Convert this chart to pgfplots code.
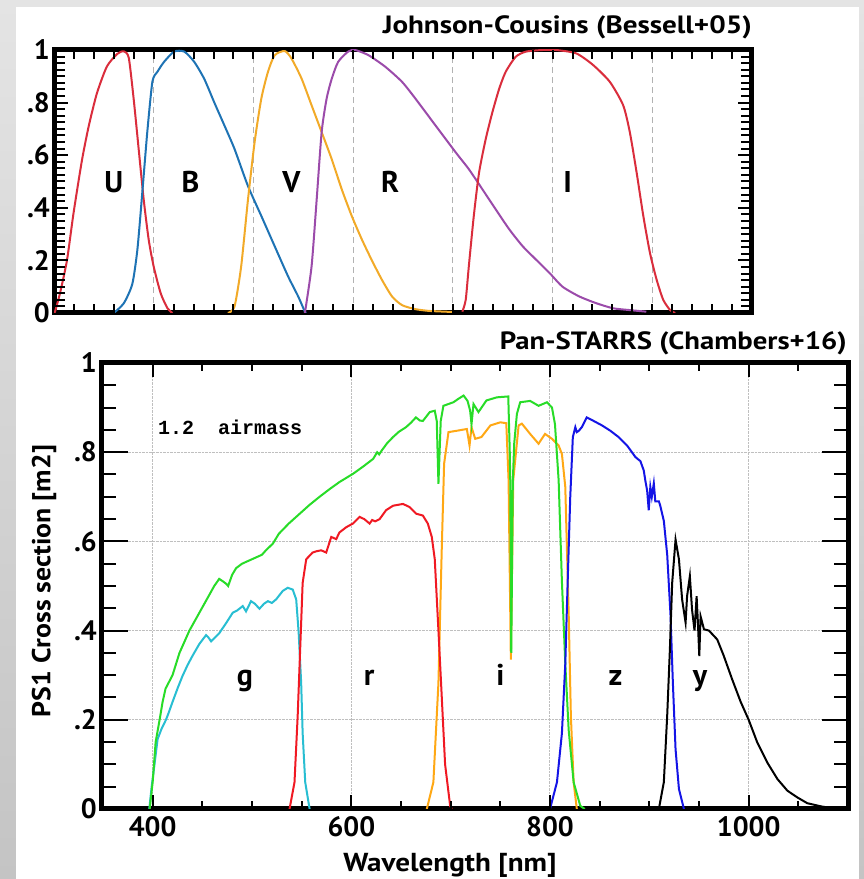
\documentclass[border=0pt]{standalone}
\usepackage{fontspec}
\setmainfont{PT Sans}
\newfontfamily\monob{Liberation Mono}
\usepackage{graphicx}
\usepackage{pgfplots}
\pgfplotsset{compat=1.18}
\definecolor{jred}{RGB}{218,45,60}
\definecolor{jblue}{RGB}{30,115,180}
\definecolor{jorange}{RGB}{242,170,40}
\definecolor{jpurple}{RGB}{155,75,170}
\definecolor{pgreen}{RGB}{40,220,40}
\definecolor{pcyan}{RGB}{40,190,210}
\definecolor{pred}{RGB}{240,25,35}
\definecolor{porange}{RGB}{255,168,20}
\definecolor{pblue}{RGB}{20,20,230}
\pgfplotsset{
  every axis/.append style={
    scale only axis, anchor=south west,
    axis line style={line width=5pt, black},
    major tick length=0pt, minor tick length=0pt,
    tick label style={font=\fontsize{28}{30}\selectfont\bfseries},
    /pgf/number format/assume math mode=true,
    clip=true,
  },
}
\newcommand{\wbox}[2]{\resizebox{#1}{\height}{#2}}
\tikzset{tk/.style={line width=2pt, black}}
\begin{document}
\begin{tikzpicture}
\path[use as bounding box] (0pt,0pt) rectangle (864pt,879pt);
\shade[top color={rgb,255:red,228;green,228;blue,228}, bottom color={rgb,255:red,196;green,196;blue,196}] (0pt,0pt) rectangle (864pt,879pt);
\fill[white] (16pt,0pt) rectangle (859pt,872pt);

% ---------------- Johnson-Cousins ----------------
\begin{axis}[
  at={(54pt,566pt)}, width=698pt, height=263pt,
  xmin=300, xmax=1000, ymin=0, ymax=1,
  xtick={300,400,500,600,700,800,900,1000}, xticklabels={},
  ytick={0,0.2,0.4,0.6,0.8,1}, yticklabels={0,.2,.4,.6,.8,1},
  yticklabel style={inner sep=2pt, xshift=-2pt},
  xmajorgrids, major grid style={gray!60, dash pattern=on 6pt off 4pt, line width=1pt},
]
\addplot[jred, line width=2pt, smooth, tension=0.4] coordinates {(300,0)(301,0.005)(306,0.075)(313,0.2)(319.6,0.38)(328,0.58)(334.8,0.71)(343,0.835)(353,0.937)(363.4,0.985)(370,0.995)(375,0.97)(380,0.81)(385,0.62)(390,0.43)(395,0.278)(400,0.176)(407,0.075)(413.8,0.018)(418.8,0)};
\addplot[jblue, line width=2pt, smooth, tension=0.4] coordinates {(360,0)(370,0.037)(378.5,0.11)(383.6,0.24)(388.6,0.46)(393.6,0.69)(398.7,0.88)(403.7,0.917)(410.4,0.955)(420.5,0.994)(430.6,0.994)(440.6,0.955)(450.7,0.89)(460.8,0.80)(470.9,0.713)(481,0.624)(494.5,0.483)(507.9,0.369)(521.3,0.254)(534.8,0.139)(544.9,0.063)(551.6,0.005)(553,0)};
\addplot[jorange, line width=2pt, smooth, tension=0.4] coordinates {(474.3,0)(481,0.024)(487.7,0.177)(494.5,0.43)(501.2,0.65)(507.9,0.815)(514.6,0.917)(521.3,0.98)(531.4,0.996)(538.1,0.968)(548.2,0.892)(558.3,0.79)(568.4,0.688)(578.5,0.585)(588.6,0.47)(598.6,0.369)(608.7,0.28)(618.8,0.2)(628.9,0.126)(639,0.063)(649,0.03)(662,0.015)(676,0.008)(699,0.004)};
\addplot[jpurple, line width=2pt, smooth, tension=0.4] coordinates {(551.6,0)(558.3,0.177)(563.4,0.43)(568.4,0.687)(573.4,0.815)(578.5,0.89)(585,0.955)(595,0.994)(602,1.0)(615.5,0.98)(632.3,0.936)(649,0.879)(662.5,0.815)(682.6,0.713)(702.8,0.611)(716,0.547)(729.7,0.47)(743,0.394)(756.6,0.318)(770,0.254)(783.4,0.203)(797,0.152)(810,0.1)(827,0.0625)(844,0.037)(860.7,0.018)(877.5,0.011)(894,0.005)};
\addplot[jred, line width=2pt, smooth, tension=0.4] coordinates {(709.5,0.005)(712.9,0.05)(716,0.177)(721,0.369)(726.3,0.534)(733,0.662)(739.7,0.764)(746.5,0.853)(753,0.917)(763,0.974)(773.4,0.994)(790,1.0)(803.6,1.0)(823.8,0.987)(840.6,0.943)(857.4,0.879)(870.8,0.79)(877.5,0.687)(884.3,0.534)(891,0.369)(897.7,0.228)(904.4,0.126)(911,0.05)(917.9,0.011)(923,0)};
\node[anchor=base, font=\fontsize{30}{32}\selectfont\bfseries] at (axis cs:360,0.46) {U};
\node[anchor=base, font=\fontsize{30}{32}\selectfont\bfseries] at (axis cs:437,0.46) {B};
\node[anchor=base, font=\fontsize{30}{32}\selectfont\bfseries] at (axis cs:538,0.46) {V};
\node[anchor=base, font=\fontsize{30}{32}\selectfont\bfseries] at (axis cs:637,0.46) {R};
\node[anchor=base, font=\fontsize{30}{32}\selectfont\bfseries] at (axis cs:815,0.46) {I};
\end{axis}

% ---------------- Pan-STARRS ----------------
\begin{axis}[
  at={(101pt,70pt)}, width=747pt, height=446pt,
  xmin=348, xmax=1100, ymin=0, ymax=1,
  xtick={400,600,800,1000}, xticklabels={400,600,800,1000},
  ytick={0,0.2,0.4,0.6,0.8,1}, yticklabels={0,.2,.4,.6,.8,1},
  yticklabel style={inner sep=2pt, xshift=-2pt},
  xticklabel style={yshift=-4pt},
  grid=major, major grid style={gray!50, densely dotted, line width=1pt},
]
\addplot[porange, line width=2pt] coordinates {(676,0)(682.6,0.06)(687.7,0.283)(691,0.58)(693.4,0.774)(697.8,0.845)(706,0.848)(716.3,0.852)(719,0.815)(721,0.856)(724.7,0.83)(731,0.834)(740,0.86)(750,0.867)(756,0.865)(758.3,0.737)(760.6,0.335)(763,0.737)(768.4,0.86)(771.7,0.864)(780,0.841)(788.5,0.819)(795,0.841)(802,0.83)(808.7,0.815)(812,0.796)(815.4,0.722)(817,0.587)(818.8,0.44)(821,0.21)(823.8,0.06)(827,0)};
\addplot[pcyan, line width=2pt] coordinates {(396.6,0)(399,0.05)(401.7,0.097)(405,0.157)(409,0.18)(413.4,0.2)(416,0.215)(420,0.24)(425,0.27)(430,0.298)(435,0.322)(440,0.343)(447,0.37)(453.8,0.39)(456,0.385)(458.8,0.376)(463,0.385)(467,0.394)(474,0.417)(480.6,0.44)(485,0.445)(490.7,0.455)(494,0.443)(499,0.466)(503,0.46)(507.5,0.449)(512,0.46)(516,0.466)(520,0.462)(524.3,0.47)(531,0.489)(536,0.496)(541,0.492)(544.5,0.47)(547,0.395)(549.5,0.283)(551,0.17)(553.6,0.06)(558,0)};
\addplot[pred, line width=2pt] coordinates {(537.8,0)(542.8,0.06)(546,0.209)(548.5,0.358)(551,0.507)(554.6,0.56)(561,0.575)(565,0.578)(569.7,0.58)(574.7,0.575)(579.8,0.61)(584.8,0.605)(588,0.62)(595,0.632)(601.6,0.64)(608.3,0.655)(613,0.65)(618.4,0.64)(621,0.648)(624,0.645)(628.5,0.65)(635,0.67)(642,0.68)(652,0.684)(658.7,0.677)(665.4,0.662)(672,0.658)(677,0.64)(681,0.61)(684,0.56)(687.7,0.4)(691,0.253)(694.4,0.10)(699.5,0.007)(701,0)};
\addplot[pgreen, line width=2pt] coordinates {(397,0)(400,0.06)(403,0.15)(407,0.2)(410,0.24)(413,0.27)(420,0.30)(427,0.35)(432,0.375)(437,0.40)(442,0.42)(447,0.44)(452,0.46)(457,0.48)(462,0.50)(467,0.516)(471,0.51)(474,0.505)(476,0.50)(480,0.525)(484,0.54)(490,0.55)(497,0.557)(505,0.565)(510,0.57)(514,0.58)(521,0.595)(527,0.617)(537,0.64)(548,0.662)(558,0.682)(568,0.70)(578,0.717)(588,0.733)(602,0.752)(612,0.768)(622,0.785)(626,0.80)(628,0.795)(631,0.805)(636,0.82)(642,0.834)(648,0.846)(655,0.856)(660,0.866)(665,0.878)(669,0.871)(672,0.87)(679,0.89)(684,0.893)(686,0.87)(687.7,0.729)(690,0.87)(692.7,0.904)(702.8,0.912)(708,0.92)(713,0.927)(717,0.915)(719.6,0.893)(721,0.863)(723,0.908)(728,0.89)(736,0.916)(746.5,0.923)(758,0.925)(759.5,0.80)(760,0.737)(761,0.35)(762,0.60)(762.6,0.737)(764,0.82)(766.7,0.886)(770,0.912)(780,0.915)(788.5,0.904)(797,0.912)(802,0.90)(805,0.863)(808.7,0.737)(812,0.51)(815.4,0.326)(818.8,0.177)(823.8,0.06)(830.5,0.007)(835,0)};
\addplot[pblue, line width=2pt] coordinates {(800,0)(807,0.06)(812,0.17)(815.4,0.326)(817.8,0.51)(820.4,0.7)(823,0.834)(825.5,0.856)(827,0.845)(829,0.848)(832,0.856)(837,0.878)(844,0.87)(852.4,0.86)(860.8,0.848)(869,0.834)(877.6,0.815)(886,0.789)(891,0.78)(894.4,0.759)(896,0.736)(897.8,0.714)(899.4,0.67)(901,0.722)(902.5,0.70)(904.5,0.73)(906,0.69)(909.6,0.69)(911,0.68)(914.6,0.646)(918,0.57)(921.3,0.436)(923.7,0.283)(926.4,0.134)(929.8,0.045)(934.8,0)};
\addplot[black, line width=2pt] coordinates {(909.6,0)(914.6,0.06)(918,0.21)(920.7,0.358)(923,0.507)(926.4,0.604)(929.8,0.56)(933,0.47)(936.5,0.418)(938,0.477)(940.8,0.522)(943,0.447)(945.5,0.4)(947.6,0.477)(948.9,0.418)(950.3,0.343)(951.6,0.432)(955,0.403)(960,0.4)(968.4,0.38)(975,0.343)(983.5,0.29)(992,0.24)(1000,0.2)(1008.7,0.149)(1018.8,0.104)(1029,0.067)(1039,0.041)(1049,0.026)(1059,0.013)(1072.6,0.006)(1086,0.001)(1096,0)};
\node[anchor=base west, font=\monob\fontsize{20}{22}\selectfont\bfseries] at (axis cs:402,0.839) {1.2\ \ airmass};
\node[anchor=base, font=\fontsize{30}{32}\selectfont\bfseries] at (axis cs:493,0.278) {g};
\node[anchor=base, font=\fontsize{30}{32}\selectfont\bfseries] at (axis cs:618,0.278) {r};
\node[anchor=base, font=\fontsize{30}{32}\selectfont\bfseries] at (axis cs:750,0.278) {i};
\node[anchor=base, font=\fontsize{30}{32}\selectfont\bfseries] at (axis cs:866,0.278) {z};
\node[anchor=base, font=\fontsize{30}{32}\selectfont\bfseries] at (axis cs:951,0.278) {y};
\end{axis}

% ---- tick marks (axis decoration), top panel: x 54..752 for 300..1000 nm, y 566..829 ----
\foreach \l in {320,340,...,980}{
  \draw[tk] ({54pt+(\l-300)*0.997143pt},566pt) -- ++(0pt,9pt);
  \draw[tk] ({54pt+(\l-300)*0.997143pt},829pt) -- ++(0pt,-9pt);
}
\foreach \v in {1,...,39}{
  \draw[tk] (54pt,{566pt+\v*6.575pt}) -- ++(11pt,0pt);
  \draw[tk] (752pt,{566pt+\v*6.575pt}) -- ++(-11pt,0pt);
}
\foreach \v in {8,16,24,32}{
  \draw[tk] (54pt,{566pt+\v*6.575pt}) -- ++(14pt,0pt);
  \draw[tk] (752pt,{566pt+\v*6.575pt}) -- ++(-14pt,0pt);
}
% ---- bottom panel: x 101..848 for 348..1100 nm, y 70..516 ----
\foreach \l in {450,500,550,650,700,750,850,900,950,1050}{
  \draw[tk] ({101pt+(\l-348)*0.993351pt},70pt) -- ++(0pt,8pt);
  \draw[tk] ({101pt+(\l-348)*0.993351pt},516pt) -- ++(0pt,-8pt);
}
\foreach \l in {400,600,800,1000}{
  \draw[tk] ({101pt+(\l-348)*0.993351pt},70pt) -- ++(0pt,14pt);
  \draw[tk] ({101pt+(\l-348)*0.993351pt},516pt) -- ++(0pt,-14pt);
}
\foreach \v in {1,2,3,5,6,7,9,10,11,13,14,15,17,18,19}{
  \draw[tk] (101pt,{70pt+\v*22.3pt}) -- ++(15pt,0pt);
  \draw[tk] (848pt,{70pt+\v*22.3pt}) -- ++(-14pt,0pt);
}
\foreach \v in {4,8,12,16}{
  \draw[tk] (101pt,{70pt+\v*22.3pt}) -- ++(27pt,0pt);
  \draw[tk] (848pt,{70pt+\v*22.3pt}) -- ++(-26pt,0pt);
}

\node[anchor=east, inner sep=0pt, font=\fontsize{25}{28}\selectfont\bfseries] at (752pt,852pt) {\wbox{369pt}{Johnson-Cousins (Bessell+05)}};
\node[anchor=east, inner sep=0pt, font=\fontsize{25}{28}\selectfont\bfseries] at (847pt,536pt) {\wbox{347pt}{Pan-STARRS (Chambers+16)}};
\node[rotate=90, inner sep=0pt, font=\fontsize{26}{28}\selectfont\bfseries] at (44pt,298pt) {\wbox{272pt}{PS1 Cross section [m2]}};
\node[anchor=base, inner sep=0pt, font=\fontsize{26}{28}\selectfont\bfseries] at (450pt,8pt) {\wbox{213pt}{Wavelength [nm]}};
\end{tikzpicture}
\end{document}
